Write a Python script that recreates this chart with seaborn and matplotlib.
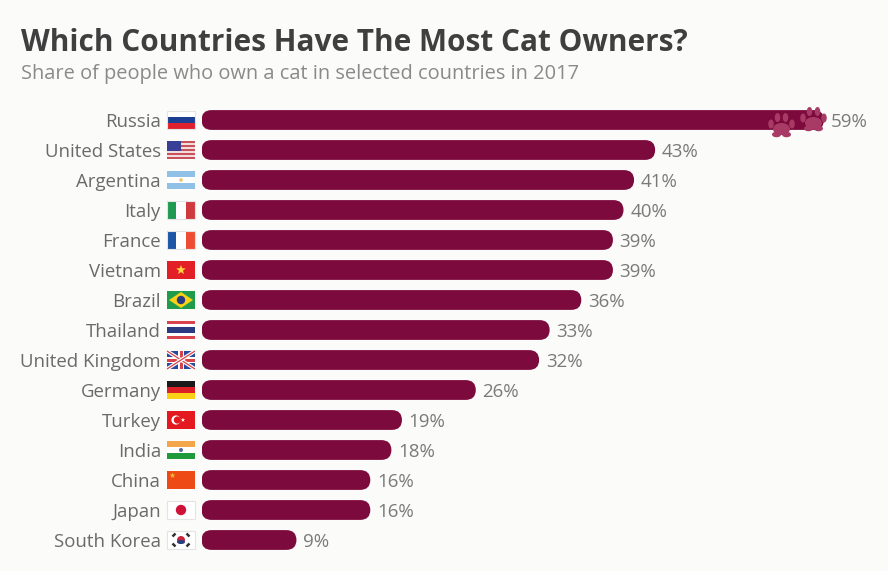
import pandas as pd
import numpy as np
import matplotlib
matplotlib.use("Agg")
import matplotlib.pyplot as plt
import seaborn as sns
from matplotlib.patches import FancyBboxPatch, Rectangle, Circle, Ellipse, Polygon

countries = ["Russia", "United States", "Argentina", "Italy", "France", "Vietnam", "Brazil",
             "Thailand", "United Kingdom", "Germany", "Turkey", "India", "China", "Japan", "South Korea"]
shares = [59, 43, 41, 40, 39, 39, 36, 33, 32, 26, 19, 18, 16, 16, 9]

title = "Which Countries Have The Most Cat Owners?"
subtitle = "Share of people who own a cat in selected countries in 2017"

BAR = "#7d0a3c"
BG = "#fbfbfa"
W, H = 888, 571

sns.set_theme(style="white")
plt.rcParams["font.family"] = ["Open Sans", "DejaVu Sans"]

df = pd.DataFrame({"country": countries, "share": shares})

fig = plt.figure(figsize=(W / 100, H / 100), dpi=100, facecolor=BG)
# main axes: 10.55 px per percent, 30 px per row
ax = fig.add_axes([201.5 / W, 1 - 555 / H, 686.5 / W, 450 / H], facecolor="none")
sns.barplot(data=df, x="share", y="country", color=BAR, saturation=1, width=0.66, ax=ax)
ax.set_xlim(0, 686.5 / 10.55)
ax.set_ylim(14.5, -0.5)
ax.set(xlabel="", ylabel="")
ax.set_xticks([])
sns.despine(ax=ax, left=True, bottom=True)
ax.tick_params(axis="y", length=0, pad=29.2, labelsize=13.4, labelcolor="#6a6a6a")

vals = ax.bar_label(ax.containers[0], fmt="%g%%", padding=4.8, fontsize=13.5, color="#7a7a7a")
for v in vals:
    v.set_verticalalignment("center_baseline")

# swap the square bars for rounded ones, keeping seaborn's geometry
for bar in list(ax.containers[0]):
    x0, y0, w, h = bar.get_x(), bar.get_y(), bar.get_width(), bar.get_height()
    bar.set_visible(False)
    ax.add_patch(FancyBboxPatch((x0, y0), w, h, boxstyle="round,pad=0,rounding_size=0.95",
                                mutation_aspect=0.351, fc=BAR, ec="none"))

# overlay in pixel coordinates for flags, paws and headings
ov = fig.add_axes([0, 0, 1, 1], facecolor="none")
ov.set_xlim(0, W)
ov.set_ylim(H, 0)
ov.axis("off")

ov.text(21, 43, title, fontsize=21.4, fontweight="bold", color="#3f3f3f", va="center", ha="left")
ov.text(21, 74, subtitle, fontsize=14.4, color="#8a8a8a", va="center", ha="left")


def hstripes(cy, cols):
    n = len(cols)
    for i, c in enumerate(cols):
        ov.add_patch(Rectangle((167, cy - 9 + 18 * i / n), 28, 18 / n + 0.2, fc=c, ec="none"))


def vstripes(cy, cols):
    n = len(cols)
    for i, c in enumerate(cols):
        ov.add_patch(Rectangle((167 + 28 * i / n, cy - 9), 28 / n + 0.2, 18, fc=c, ec="none"))


def border(cy):
    ov.add_patch(Rectangle((167, cy - 9), 28, 18, fc="none", ec="#e4e4e4", lw=0.8))


def star(cx, cy, r, col):
    ang = np.pi / 2 + np.arange(10) * np.pi / 5
    rad = np.where(np.arange(10) % 2 == 0, r, r * 0.42)
    ov.add_patch(Polygon(np.c_[cx + rad * np.cos(ang), cy - rad * np.sin(ang)], fc=col, ec="none"))


def flag(name, cy):
    if name == "Russia":
        hstripes(cy, ["#ffffff", "#1c3f94", "#e0202c"])
        border(cy)
    elif name == "United States":
        hstripes(cy, ["#c8525c", "#f3dcdc"] * 4 + ["#c8525c"])
        ov.add_patch(Rectangle((167, cy - 9), 14, 9.5, fc="#3a3f96", ec="none"))
    elif name == "Argentina":
        hstripes(cy, ["#8fc0e6", "#ffffff", "#8fc0e6"])
        ov.add_patch(Circle((181, cy), 1.8, fc="#e8c86a", ec="none"))
    elif name == "Italy":
        vstripes(cy, ["#1f9a50", "#ffffff", "#cf3a3f"])
        border(cy)
    elif name == "France":
        vstripes(cy, ["#1d56a5", "#ffffff", "#ee4d33"])
        border(cy)
    elif name == "Vietnam":
        hstripes(cy, ["#e21f26"])
        star(181, cy, 5, "#ffd23f")
    elif name == "Brazil":
        hstripes(cy, ["#1e9b4b"])
        ov.add_patch(Polygon([(169, cy), (181, cy - 8), (193, cy), (181, cy + 8)], fc="#f7d117", ec="none"))
        ov.add_patch(Circle((181, cy), 4.2, fc="#2a3a80", ec="none"))
    elif name == "Thailand":
        hstripes(cy, ["#d8434c", "#ffffff", "#2a3a80", "#2a3a80", "#ffffff", "#d8434c"])
    elif name == "United Kingdom":
        hstripes(cy, ["#2b4a9b"])
        for s in (1, -1):
            ov.plot([167, 195], [cy - 9 * s, cy + 9 * s], color="#ffffff", lw=2.6, solid_capstyle="butt")
            ov.plot([167, 195], [cy - 9 * s, cy + 9 * s], color="#d8434c", lw=0.9, solid_capstyle="butt")
        ov.add_patch(Rectangle((178, cy - 9), 6, 18, fc="#ffffff", ec="none"))
        ov.add_patch(Rectangle((167, cy - 3), 28, 6, fc="#ffffff", ec="none"))
        ov.add_patch(Rectangle((179.5, cy - 9), 3, 18, fc="#d8434c", ec="none"))
        ov.add_patch(Rectangle((167, cy - 1.5), 28, 3, fc="#d8434c", ec="none"))
    elif name == "Germany":
        hstripes(cy, ["#1a1a1a", "#dd1f26", "#fbd116"])
    elif name == "Turkey":
        hstripes(cy, ["#e3191f"])
        ov.add_patch(Circle((176, cy), 4.6, fc="#ffffff", ec="none"))
        ov.add_patch(Circle((177.4, cy), 3.6, fc="#e3191f", ec="none"))
        star(183, cy, 2.2, "#ffffff")
    elif name == "India":
        hstripes(cy, ["#f4a64a", "#ffffff", "#1f9a3d"])
        ov.add_patch(Circle((181, cy), 2, fc="#5a6aa0", ec="none"))
    elif name == "China":
        hstripes(cy, ["#ee4a16"])
        star(172.5, cy - 4.5, 3, "#f5b82e")
    elif name == "Japan":
        hstripes(cy, ["#ffffff"])
        ov.add_patch(Circle((181, cy), 5.2, fc="#cf1237", ec="none"))
        border(cy)
    elif name == "South Korea":
        hstripes(cy, ["#ffffff"])
        ov.add_patch(Circle((181, cy), 4, fc="#c8243c", ec="none"))
        ov.add_patch(Ellipse((181, cy + 2), 8, 4, fc="#28407f", ec="none"))
        for dx, dy in [(-7, -5), (7, -5), (-7, 5), (7, 5)]:
            ov.plot([181 + dx - 1.5, 181 + dx + 1.5], [cy + dy + np.sign(dx * dy) * 1.5, cy + dy - np.sign(dx * dy) * 1.5],
                    color="#333333", lw=1.8, solid_capstyle="butt")
        border(cy)


for i, name in enumerate(countries):
    flag(name, 120 + 30 * i)


def paw(cx, cy, col="#a83a66"):
    ov.add_patch(Ellipse((cx, cy + 4), 17, 12, fc=col, ec="none"))
    ov.add_patch(Ellipse((cx - 5, cy + 9.5), 9, 5.5, fc=col, ec="none"))
    ov.add_patch(Ellipse((cx + 5, cy + 9.5), 9, 5.5, fc=col, ec="none"))
    for dx, dy in [(-10.5, -1), (-4, -7.5), (4, -7.5), (10.5, -1)]:
        ov.add_patch(Ellipse((cx + dx, cy + dy), 5.5, 9, fc=col, ec="none"))


paw(781.5, 125)
paw(813.5, 119)

fig.savefig("out.png", dpi=100, facecolor=BG)
